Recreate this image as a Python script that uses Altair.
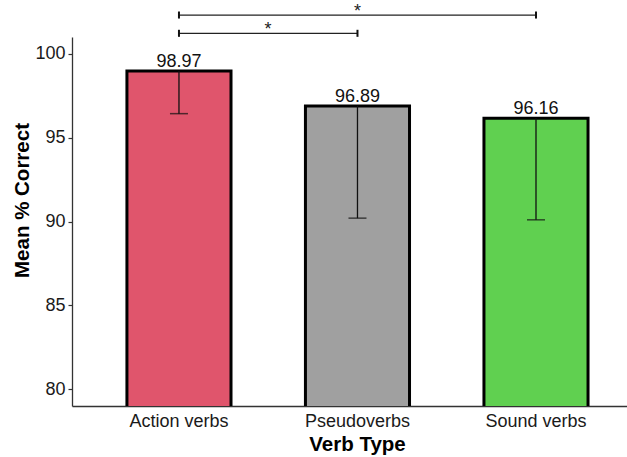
import altair as alt
import pandas as pd

verbs = ["Action verbs", "Pseudoverbs", "Sound verbs"]
means = [98.97, 96.89, 96.16]
lowers = [96.43, 90.20, 90.10]
colors = ["#E0556C", "#A0A0A0", "#60D050"]
mean_labels = ["98.97", "96.89", "96.16"]

br_from = ["Action verbs", "Action verbs"]
br_to = ["Pseudoverbs", "Sound verbs"]
br_y = [101.22, 102.31]
br_lo = [101.01, 102.10]
br_hi = [101.43, 102.52]
br_text = ["*", "*"]

FONT = "Liberation Sans"
LAB = 18
TIT = 20.5

df = pd.DataFrame({"verb": verbs, "mean": means, "lower": lowers, "label": mean_labels})
br = pd.DataFrame({"from": br_from, "to": br_to, "y": br_y, "lo": br_lo, "hi": br_hi, "star": br_text})

xscale = alt.Scale(domain=verbs, paddingInner=0.417, paddingOuter=0.263, align=0.585)
yscale = alt.Scale(domain=[79, 101], zero=False, nice=False)

x_enc = alt.X("verb:N", scale=xscale, sort=verbs,
              axis=alt.Axis(title="Verb Type", labelAngle=0, ticks=False, labelPadding=6,
                            labelFontSize=LAB, labelColor="#1a1a1a", labelFont=FONT,
                            titleFontSize=TIT, titleFontWeight="bold", titleFont=FONT,
                            titleColor="#000000", titleX=285, titleY=44,
                            titleBaseline="alphabetic", titleAlign="center",
                            domainColor="#333333", domainWidth=1.3))

y_enc = alt.Y("mean:Q", scale=yscale,
              axis=alt.Axis(title="Mean % Correct", values=[80, 85, 90, 95, 100],
                            grid=False, tickSize=4, tickColor="#333333", tickWidth=1.2,
                            labelFontSize=LAB, labelColor="#1a1a1a", labelFont=FONT,
                            labelPadding=3,
                            titleFontSize=TIT, titleFontWeight="bold", titleFont=FONT,
                            titleColor="#000000", titleX=-44, titleY=163,
                            titleAngle=-90, titleBaseline="alphabetic", titleAlign="center",
                            domainColor="#333333", domainWidth=1.3))

bars = alt.Chart(df).mark_bar(stroke="black", strokeWidth=3, clip=True).encode(
    x=x_enc,
    y=y_enc,
    color=alt.Color("verb:N", scale=alt.Scale(domain=verbs, range=colors), legend=None),
)

err_rule = alt.Chart(df).mark_rule(color="#111111", strokeWidth=1.3).encode(
    x=alt.X("verb:N", scale=xscale, sort=verbs),
    y=alt.Y("lower:Q", scale=yscale),
    y2="mean:Q",
)

err_cap = alt.Chart(df).mark_tick(color="#111111", size=18, thickness=1.5, orient="horizontal").encode(
    x=alt.X("verb:N", scale=xscale, sort=verbs),
    y=alt.Y("lower:Q", scale=yscale),
)

labels = alt.Chart(df).mark_text(fontSize=LAB, font=FONT, color="#111111", dy=-4,
                                 baseline="alphabetic").encode(
    x=alt.X("verb:N", scale=xscale, sort=verbs),
    y=alt.Y("mean:Q", scale=yscale),
    text="label:N",
)

br_line = alt.Chart(br).mark_rule(color="#222222", strokeWidth=1.3, clip=False).encode(
    x=alt.X("from:N", scale=xscale, sort=verbs),
    x2="to:N",
    y=alt.Y("y:Q", scale=yscale),
)
br_cap_l = alt.Chart(br).mark_rule(color="#111111", strokeWidth=2, clip=False).encode(
    x=alt.X("from:N", scale=xscale, sort=verbs),
    y=alt.Y("lo:Q", scale=yscale),
    y2="hi:Q",
)
br_cap_r = alt.Chart(br).mark_rule(color="#111111", strokeWidth=2, clip=False).encode(
    x=alt.X("to:N", scale=xscale, sort=verbs),
    y=alt.Y("lo:Q", scale=yscale),
    y2="hi:Q",
)
# upper star sits midway between Action verbs and Sound verbs (one band step right)
star_hi = alt.Chart(br.iloc[[1]]).mark_text(fontSize=LAB, font=FONT, color="#222222",
                                           baseline="alphabetic", dy=2, dx=178.5).encode(
    x=alt.X("from:N", scale=xscale, sort=verbs),
    y=alt.Y("y:Q", scale=yscale),
    text="star:N",
)
# lower star sits midway between Action verbs and Pseudoverbs (half a band step right)
star_lo = alt.Chart(br.iloc[[0]]).mark_text(fontSize=LAB, font=FONT, color="#222222",
                                           baseline="alphabetic", dy=2, dx=89).encode(
    x=alt.X("from:N", scale=xscale, sort=verbs),
    y=alt.Y("y:Q", scale=yscale),
    text="star:N",
)

chart = alt.layer(bars, err_rule, err_cap, labels, br_line, br_cap_l, br_cap_r, star_hi, star_lo).properties(
    width=555,
    height=369,
    autosize=alt.AutoSizeParams(type="none"),
    padding={"left": 72, "top": 37, "right": 0, "bottom": 51},
    background="white",
).configure_view(stroke=None)

chart.save("out.html", embed_options={"renderer": "svg", "actions": False})
